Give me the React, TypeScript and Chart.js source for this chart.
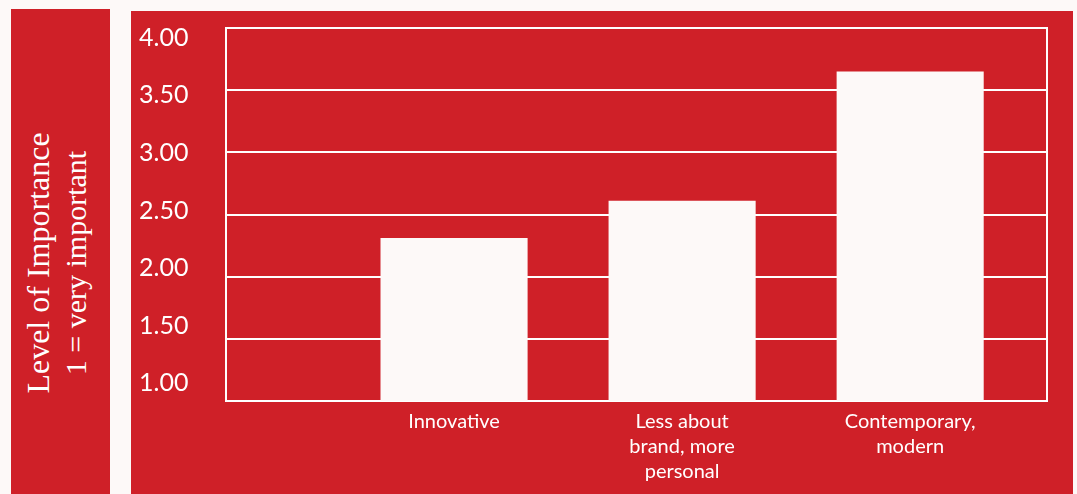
import React, { useEffect, useRef } from 'react';
import { Chart, registerables } from 'chart.js';

Chart.register(...registerables);

// ---- Data ----
const categories: string[][] = [
  ['Innovative'],
  ['Less about', 'brand, more', 'personal'],
  ['Contemporary,', 'modern'],
];
const importanceValues: number[] = [2.31, 2.61, 3.65];
const yTickValues: number[] = [1.0, 1.5, 2.0, 2.5, 3.0, 3.5, 4.0];
const axisTitleLines: string[] = ['Level of Importance', '1 = very important'];

// ---- Styles ----
const RED = '#cf2028';
const OFFWHITE = '#fdf9f8';
const SANS = 'Lato, "Noto Sans", sans-serif';
const SERIF = '"Liberation Serif", "DejaVu Serif", serif';

export default function App() {
  const canvasRef = useRef<HTMLCanvasElement | null>(null);

  useEffect(() => {
    const canvas = canvasRef.current;
    if (!canvas) return;
    const chart = new Chart(canvas, {
      type: 'bar',
      data: {
        datasets: [
          {
            data: importanceValues.map((v, i) => ({ x: i + 1, y: v })),
            backgroundColor: OFFWHITE,
            borderWidth: 0,
            barPercentage: 0.645,
            categoryPercentage: 1,
          },
        ],
      },
      options: {
        animation: false,
        responsive: true,
        maintainAspectRatio: false,
        layout: { padding: { left: 8, right: 26, top: 17, bottom: 0 } },
        plugins: {
          legend: { display: false },
          tooltip: { enabled: false },
        },
        scales: {
          x: {
            type: 'linear',
            offset: false,
            min: 0,
            max: 3.6,
            grid: { display: false, drawTicks: false },
            border: { color: '#ffffff', width: 2 },
            afterBuildTicks: (scale: any) => {
              scale.ticks = categories.map((_, i) => ({ value: i + 1 }));
            },
            ticks: {
              color: '#ffffff',
              font: { family: SANS, size: 20, lineHeight: 1.25 },
              padding: 8,
              maxRotation: 0,
              autoSkip: false,
              callback: (v: any) => categories[Number(v) - 1] ?? '',
            },
            afterFit: (scale: any) => {
              scale.height = 93;
            },
          },
          y: {
            type: 'linear',
            position: 'left',
            weight: 0,
            min: 1,
            max: 4,
            ticks: { display: false, stepSize: 0.5 },
            grid: { color: '#ffffff', lineWidth: 2, drawTicks: false },
            border: { color: '#ffffff', width: 2 },
          },
          yLabels: {
            type: 'linear',
            position: 'left',
            weight: 1,
            min: 0.846,
            max: 4.084,
            grid: { display: false, drawTicks: false },
            border: { display: false },
            afterBuildTicks: (scale: any) => {
              scale.ticks = yTickValues.map((v) => ({ value: v }));
            },
            ticks: {
              color: '#ffffff',
              font: { family: SANS, size: 25 },
              crossAlign: 'far',
              padding: 0,
              callback: (v: any) => Number(v).toFixed(2),
            },
            afterFit: (scale: any) => {
              scale.width = 87;
              scale.paddingTop = 0;
              scale.paddingBottom = 0;
            },
          },
          yRight: {
            type: 'linear',
            position: 'right',
            min: 1,
            max: 4,
            ticks: { display: false },
            grid: { display: false, drawTicks: false },
            border: { color: '#ffffff', width: 2 },
          },
        },
      } as any,
    });
    return () => chart.destroy();
  }, []);

  return (
    <div
      style={{
        position: 'fixed',
        left: 0,
        top: 0,
        width: 1077,
        height: 494,
        background: OFFWHITE,
        overflow: 'hidden',
      }}
    >
      <div
        style={{
          position: 'absolute',
          left: 11,
          top: 9,
          width: 99,
          height: 485,
          background: RED,
        }}
      >
        <div
          style={{
            position: 'absolute',
            left: 46,
            top: 254,
            width: 340,
            transform: 'translate(-50%, -50%) rotate(-90deg)',
            textAlign: 'center',
            color: '#ffffff',
            fontFamily: SERIF,
            lineHeight: '38px',
            whiteSpace: 'nowrap',
          }}
        >
          <div style={{ fontSize: 32 }}>{axisTitleLines[0]}</div>
          <div style={{ fontSize: 30 }}>{axisTitleLines[1]}</div>
        </div>
      </div>
      <div
        style={{
          position: 'absolute',
          left: 131,
          top: 11,
          width: 942,
          height: 483,
          background: RED,
        }}
      >
        <canvas ref={canvasRef} />
      </div>
    </div>
  );
}
